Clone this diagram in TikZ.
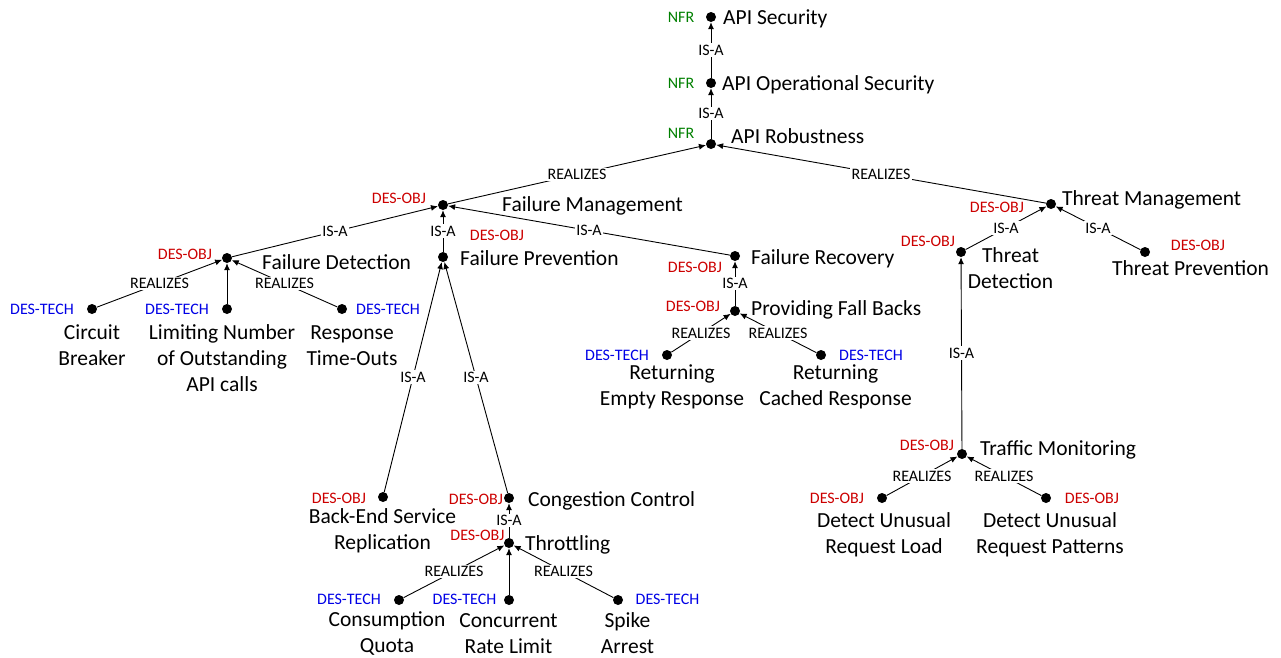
\documentclass[tikz,border=0pt]{standalone}
\usepackage{fontspec}
\setmainfont{Carlito}
\usetikzlibrary{arrows.meta}
\definecolor{nfrgreen}{RGB}{0,128,0}
\definecolor{objred}{RGB}{204,0,0}
\definecolor{techblue}{RGB}{0,0,230}
\begin{document}
\begin{tikzpicture}[x=1pt,y=-1pt,
  dot/.style={circle,fill=black,inner sep=0pt,minimum size=10pt},
  concept/.style={font=\fontsize{21.5}{26}\selectfont,inner sep=0pt,align=center},
  lconcept/.style={concept,anchor=west,yshift=-1.5pt},
  tag/.style={font=\fontsize{16}{19}\selectfont,inner sep=0pt},
  nfr/.style={tag,text=nfrgreen},
  desobj/.style={tag,text=objred},
  destech/.style={tag,text=techblue},
  link/.style={draw,line width=0.9pt,-{Latex[length=7pt,width=6pt]}},
  rel/.style={fill=white,font=\fontsize{16}{19}\selectfont,inner sep=1.5pt}]
\useasboundingbox (0,0) rectangle (1281,657);

% goal and objective dots
\node[dot] (AS)   at (711,17)  {};
\node[dot] (AOS)  at (711,83)  {};
\node[dot] (AR)   at (711,144) {};
\node[dot] (FM)   at (443,205) {};
\node[dot] (TM)   at (1051,204) {};
\node[dot] (FD)   at (227,258) {};
\node[dot] (FP)   at (443,257) {};
\node[dot] (FR)   at (735,256) {};
\node[dot] (CB)   at (92,309)  {};
\node[dot] (LN)   at (227,309) {};
\node[dot] (RT)   at (342,309) {};
\node[dot] (PFB)  at (735,311) {};
\node[dot] (RE)   at (667,355) {};
\node[dot] (RC)   at (821,355) {};
\node[dot] (BE)   at (383,497) {};
\node[dot] (CC)   at (509,498) {};
\node[dot] (THR)  at (509,543) {};
\node[dot] (CQ)   at (399,600) {};
\node[dot] (CRL)  at (509,600) {};
\node[dot] (SA)   at (618,600) {};
\node[dot] (TD)   at (961,252) {};
\node[dot] (TP)   at (1145,252) {};
\node[dot] (TRM)  at (962,454) {};
\node[dot] (DURL) at (882,498) {};
\node[dot] (DURP) at (1046,498) {};

% names
\node[lconcept] (tAS)  at (723,17)  {API Security};
\node[lconcept] (tAOS) at (722,83)  {API Operational Security};
\node[lconcept] (tAR)  at (731,135) {API Robustness};
\node[lconcept] (tFM)  at (502,204) {Failure Management};
\node[lconcept] (tTM)  at (1062,198) {Threat Management};
\node[lconcept] (tFD)  at (262,261) {Failure Detection};
\node[lconcept] (tFP)  at (460,257) {Failure Prevention};
\node[lconcept] (tFR)  at (751,257) {Failure Recovery};
\node[lconcept] (tPFB) at (751,308) {Providing Fall Backs};
\node[lconcept] (tCC)  at (528,499) {Congestion Control};
\node[lconcept] (tTHR) at (525,543) {Throttling};
\node[lconcept] (tTRM) at (980,448) {Traffic Monitoring};
\node[lconcept] (tTP)  at (1112,267) {Threat Prevention};
\node[concept] (tCB)   at (92,345.5)  {Circuit\\Breaker};
\node[concept] (tLN)   at (222,358)   {Limiting Number\\of Outstanding\\API calls};
\node[concept] (tRT)   at (352,345.5) {Response\\Time-Outs};
\node[concept] (tRE)   at (672,387)   {Returning\\Empty Response};
\node[concept] (tRC)   at (835.5,387) {Returning\\Cached Response};
\node[concept] (tBE)   at (382.5,531) {Back-End Service\\Replication};
\node[concept] (tCQ)   at (387,633.5) {Consumption\\Quota};
\node[concept] (tCRL)  at (508.5,633.5) {Concurrent\\Rate Limit};
\node[concept] (tSA)   at (627.5,633.5) {Spike\\Arrest};
\node[concept] (tTD)   at (1010.5,268.5) {Threat\\Detection};
\node[concept] (tDURL) at (884,534.5) {Detect Unusual\\Request Load};
\node[concept] (tDURP) at (1050,534.5) {Detect Unusual\\Request Patterns};

% kinds
\node[nfr] (kAS)  at (681,17)  {NFR};
\node[nfr] (kAOS) at (681,83)  {NFR};
\node[nfr] (kAR)  at (681,133) {NFR};
\node[desobj] (kFM)   at (399,198) {DES-OBJ};
\node[desobj] (kFD)   at (185,254) {DES-OBJ};
\node[desobj] (kFP)   at (497,235) {DES-OBJ};
\node[desobj] (kFR)   at (695,267) {DES-OBJ};
\node[desobj] (kPFB)  at (693,306) {DES-OBJ};
\node[desobj] (kTM)   at (997,207) {DES-OBJ};
\node[desobj] (kTD)   at (928,241) {DES-OBJ};
\node[desobj] (kTP)   at (1198,245) {DES-OBJ};
\node[desobj] (kTRM)  at (927,445) {DES-OBJ};
\node[desobj] (kDURL) at (837,498) {DES-OBJ};
\node[desobj] (kDURP) at (1092,498) {DES-OBJ};
\node[desobj] (kBE)   at (339,498) {DES-OBJ};
\node[desobj] (kCC)   at (476,499) {DES-OBJ};
\node[desobj] (kTHR)  at (477.5,535) {DES-OBJ};
\node[destech] (kCB)  at (42,309)  {DES-TECH};
\node[destech] (kLN)  at (177,309) {DES-TECH};
\node[destech] (kRT)  at (388,309) {DES-TECH};
\node[destech] (kRE)  at (617,355) {DES-TECH};
\node[destech] (kRC)  at (871,355) {DES-TECH};
\node[destech] (kCQ)  at (349,599) {DES-TECH};
\node[destech] (kCRL) at (464.5,599) {DES-TECH};
\node[destech] (kSA)  at (667.5,599) {DES-TECH};

% relations
\draw[link] (AOS) -- node[rel]{IS-A} (AS);
\draw[link] (AR) -- node[rel]{IS-A} (AOS);
\draw[link] (FM) -- node[rel]{REALIZES} (AR);
\draw[link] (TM) -- node[rel]{REALIZES} (AR);
\draw[link] (FD) -- node[rel]{IS-A} (FM);
\draw[link] (FP) -- node[rel]{IS-A} (FM);
\draw[link] (FR) -- node[rel]{IS-A} (FM);
\draw[link] (CB) -- node[rel]{REALIZES} (FD);
\draw[link] (LN) -- (FD);
\draw[link] (RT) -- node[rel]{REALIZES} (FD);
\draw[link] (BE) -- node[rel]{IS-A} (FP);
\draw[link] (CC) -- node[rel]{IS-A} (FP);
\draw[link] (THR) -- node[rel]{IS-A} (CC);
\draw[link] (CQ) -- node[rel]{REALIZES} (THR);
\draw[link] (CRL) -- (THR);
\draw[link] (SA) -- node[rel]{REALIZES} (THR);
\draw[link] (PFB) -- node[rel]{IS-A} (FR);
\draw[link] (RE) -- node[rel]{REALIZES} (PFB);
\draw[link] (RC) -- node[rel]{REALIZES} (PFB);
\draw[link] (TD) -- node[rel]{IS-A} (TM);
\draw[link] (TP) -- node[rel]{IS-A} (TM);
\draw[link] (TRM) -- node[rel]{IS-A} (TD);
\draw[link] (DURL) -- node[rel]{REALIZES} (TRM);
\draw[link] (DURP) -- node[rel]{REALIZES} (TRM);
\end{tikzpicture}
\end{document}
